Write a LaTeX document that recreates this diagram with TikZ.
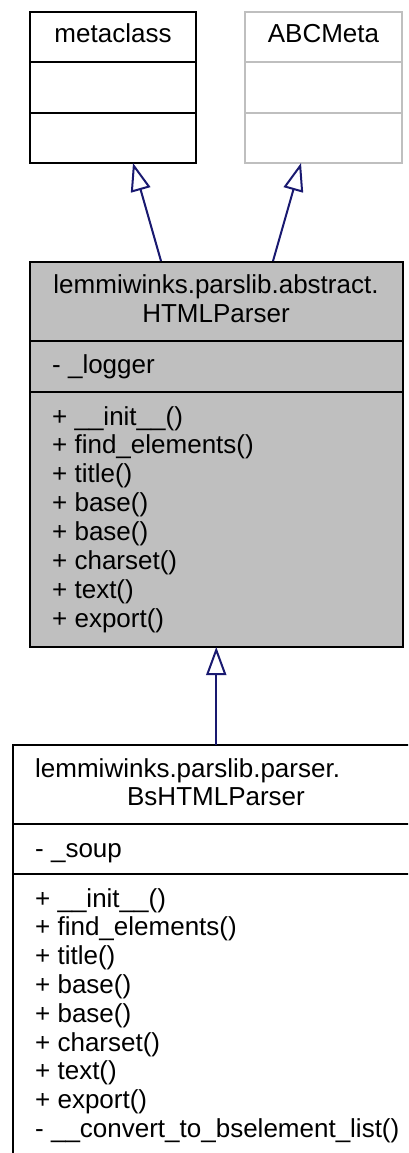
\documentclass[tikz,border=0pt]{standalone}
\usepackage{fontspec}
\setmainfont{Liberation Sans}
\usetikzlibrary{arrows.meta}
\definecolor{edgeblue}{HTML}{191970}
\definecolor{boxgray}{HTML}{BFBFBF}
\begin{document}
\begin{tikzpicture}[x=1pt,y=-1pt,
  clsbox/.style={rectangle, line width=2pt, inner sep=0pt, outer sep=0pt, anchor=north west},
  divider/.style={line width=2pt},
  ltxt/.style={font=\fontsize{26}{29}\selectfont, inner sep=0pt, anchor=base west},
  ctxt/.style={font=\fontsize{26}{29}\selectfont, inner sep=0pt, anchor=base},
  inherit/.style={draw=edgeblue, line width=2pt, -{Triangle[open, length=28pt, width=20pt, line width=2pt]}}]
\useasboundingbox (0,0) rectangle (408,1153);
\clip (0,0) rectangle (408,1153);

% metaclass
\node[clsbox, draw=black, minimum width=166pt, minimum height=151pt] (meta) at (30,12) {};
\draw[divider, black] (30,62) -- (196,62);
\draw[divider, black] (30,113) -- (196,113);
\node[ctxt] (metaT) at (113,43) {metaclass};

% ABCMeta
\node[clsbox, draw=boxgray, minimum width=157pt, minimum height=151pt] (abc) at (245,12) {};
\draw[divider, boxgray] (245,62) -- (402,62);
\draw[divider, boxgray] (245,113) -- (402,113);
\node[ctxt] (abcT) at (323.5,43) {ABCMeta};

% abstract HTMLParser
\node[clsbox, draw=black, fill=boxgray, minimum width=373.5pt, minimum height=385pt] (abs) at (29.5,262) {};
\draw[divider] (29.5,341) -- (403,341);
\draw[divider] (29.5,392) -- (403,392);
\node[ctxt] (absT1) at (216,293) {lemmiwinks.parslib.abstract.};
\node[ctxt] (absT2) at (216,322) {HTMLParser};
\node[ltxt] (absA) at (52,373) {- \_logger};
\foreach \t [count=\i from 0] in {+ \_\_init\_\_(), + find\_elements(), + title(), + base(), + base(), + charset(), + text(), + export()}
  \node[ltxt] (absM\i) at (52,425+28.9*\i) {\t};

% BsHTMLParser
\node[clsbox, draw=black, fill=white, minimum width=406pt, minimum height=430pt] (bs) at (13,745) {};
\draw[divider] (13,824) -- (419,824);
\draw[divider] (13,874) -- (419,874);
\node[ltxt] (bsT1) at (35,777) {lemmiwinks.parslib.parser.};
\node[ctxt] (bsT2) at (216,805) {BsHTMLParser};
\node[ltxt] (bsA) at (35,857) {- \_soup};
\foreach \t [count=\i from 0] in {+ \_\_init\_\_(), + find\_elements(), + title(), + base(), + base(), + charset(), + text(), + export(), - \_\_convert\_to\_bselement\_list()}
  \node[ltxt] (bsM\i) at (35,907+28.8*\i) {\t};

% inheritance connectors
\coordinate (absA1) at (161,261);
\coordinate (absA2) at (273,261);
\coordinate (metaTip) at (133,163);
\coordinate (abcTip) at (301,163);
\draw[inherit] (absA1) -- (metaTip);
\draw[inherit] (absA2) -- (abcTip);
\draw[inherit] (bs.north -| abs.south) -- (abs.south);
\end{tikzpicture}
\end{document}
